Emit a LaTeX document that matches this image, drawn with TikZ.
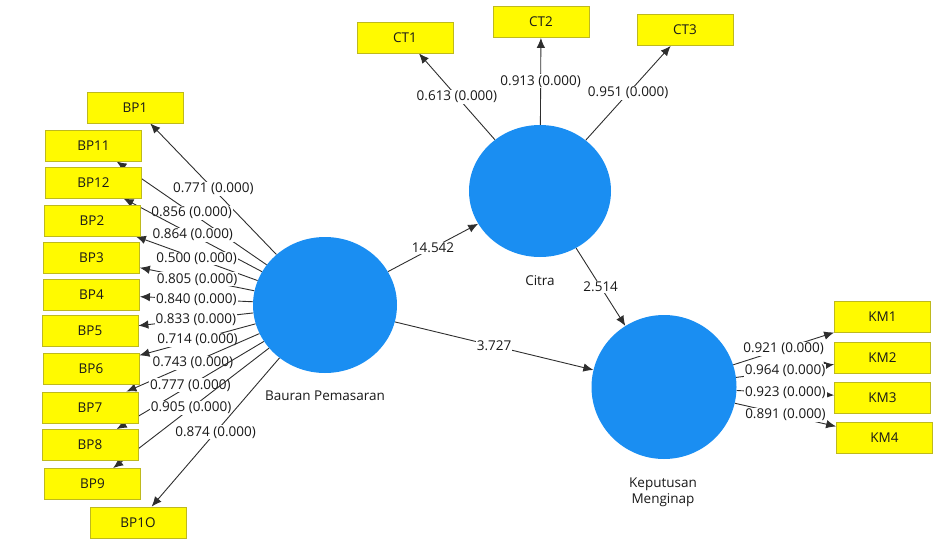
\documentclass[tikz,border=0pt]{standalone}
\usepackage{fontspec}
\setmainfont{Open Sans}
\usetikzlibrary{arrows.meta,shapes.geometric}
\pgfdeclarelayer{bg}
\pgfsetlayers{bg,main}
\definecolor{lvblue}{RGB}{26,142,242}
\definecolor{indfill}{RGB}{255,250,0}
\definecolor{indline}{RGB}{190,185,30}
\begin{document}
\begin{tikzpicture}[x=1pt,y=-1pt,
  font=\fontsize{13.5}{16}\selectfont,
  box/.style={rectangle, draw=indline, fill=indfill, line width=0.8pt,
    minimum width=96pt, minimum height=31pt, inner sep=0pt, text=black!90},
  lv/.style={ellipse, fill=lvblue, inner sep=0pt},
  lvname/.style={text=black!90, align=center},
  lnk/.style={draw=black!82, line width=0.9pt, -{Latex[length=10pt,width=8.5pt]}},
  lbl/.style={fill=white, inner sep=1pt, text=black!90}]
\useasboundingbox (0,0) rectangle (940,546);

% latent variables
\node[lv, minimum width=144pt, minimum height=136pt] (bp) at (325,305) {};
\node[lv, minimum width=142pt, minimum height=132pt] (ct) at (540,191) {};
\node[lv, minimum width=145pt, minimum height=144pt] (km) at (664,387) {};
\node[lvname] (nbp) at (325,396) {Bauran Pemasaran};
\node[lvname] (nct) at (540,281) {Citra};
\node[lvname] (nkm) at (663,492) {Keputusan\\Menginap};

% indicators
\node[box] (bp1) at (135,107.5) {BP1};
\node[box] (bp11) at (93.5,145.5) {BP11};
\node[box] (bp12) at (93.5,182.5) {BP12};
\node[box] (bp2) at (92,220.5) {BP2};
\node[box] (bp3) at (91.5,258) {BP3};
\node[box] (bp4) at (91.5,294.5) {BP4};
\node[box] (bp5) at (90,331) {BP5};
\node[box] (bp6) at (91,368.5) {BP6};
\node[box] (bp7) at (90,407.5) {BP7};
\node[box] (bp8) at (90,445) {BP8};
\node[box] (bp9) at (92.5,484) {BP9};
\node[box] (bp10) at (138,522.5) {BP1O};

\node[box] (ct1) at (405,37.5) {CT1};
\node[box] (ct2) at (541,22) {CT2};
\node[box] (ct3) at (685,30) {CT3};

\node[box] (km1) at (882.5,317) {KM1};
\node[box] (km2) at (882.5,358) {KM2};
\node[box] (km3) at (882.5,397.5) {KM3};
\node[box] (km4) at (884.5,437.5) {KM4};

\begin{pgfonlayer}{bg}
\draw[lnk] (bp) -- node[lbl]{0.771 (0.000)} (bp1);
\draw[lnk] (bp) -- node[lbl]{0.856 (0.000)} (bp11);
\draw[lnk] (bp) -- node[lbl]{0.864 (0.000)} (bp12);
\draw[lnk] (bp) -- node[lbl]{0.500 (0.000)} (bp2);
\draw[lnk] (bp) -- node[lbl]{0.805 (0.000)} (bp3);
\draw[lnk] (bp) -- node[lbl]{0.840 (0.000)} (bp4);
\draw[lnk] (bp) -- node[lbl]{0.833 (0.000)} (bp5);
\draw[lnk] (bp) -- node[lbl]{0.714 (0.000)} (bp6);
\draw[lnk] (bp) -- node[lbl]{0.743 (0.000)} (bp7);
\draw[lnk] (bp) -- node[lbl]{0.777 (0.000)} (bp8);
\draw[lnk] (bp) -- node[lbl]{0.905 (0.000)} (bp9);
\draw[lnk] (bp) -- node[lbl]{0.874 (0.000)} (bp10);

\draw[lnk] (ct) -- node[lbl]{0.613 (0.000)} (ct1);
\draw[lnk] (ct) -- node[lbl]{0.913 (0.000)} (ct2);
\draw[lnk] (ct) -- node[lbl]{0.951 (0.000)} (ct3);

\draw[lnk] (km) -- node[lbl]{0.921 (0.000)} (km1);
\draw[lnk] (km) -- node[lbl]{0.964 (0.000)} (km2);
\draw[lnk] (km) -- node[lbl]{0.923 (0.000)} (km3);
\draw[lnk] (km) -- node[lbl]{0.891 (0.000)} (km4);

\draw[lnk] (bp) -- node[lbl]{14.542} (ct);
\draw[lnk] (bp) -- node[lbl]{3.727} (km);
\draw[lnk] (ct) -- node[lbl]{2.514} (km);
\end{pgfonlayer}
\end{tikzpicture}
\end{document}
